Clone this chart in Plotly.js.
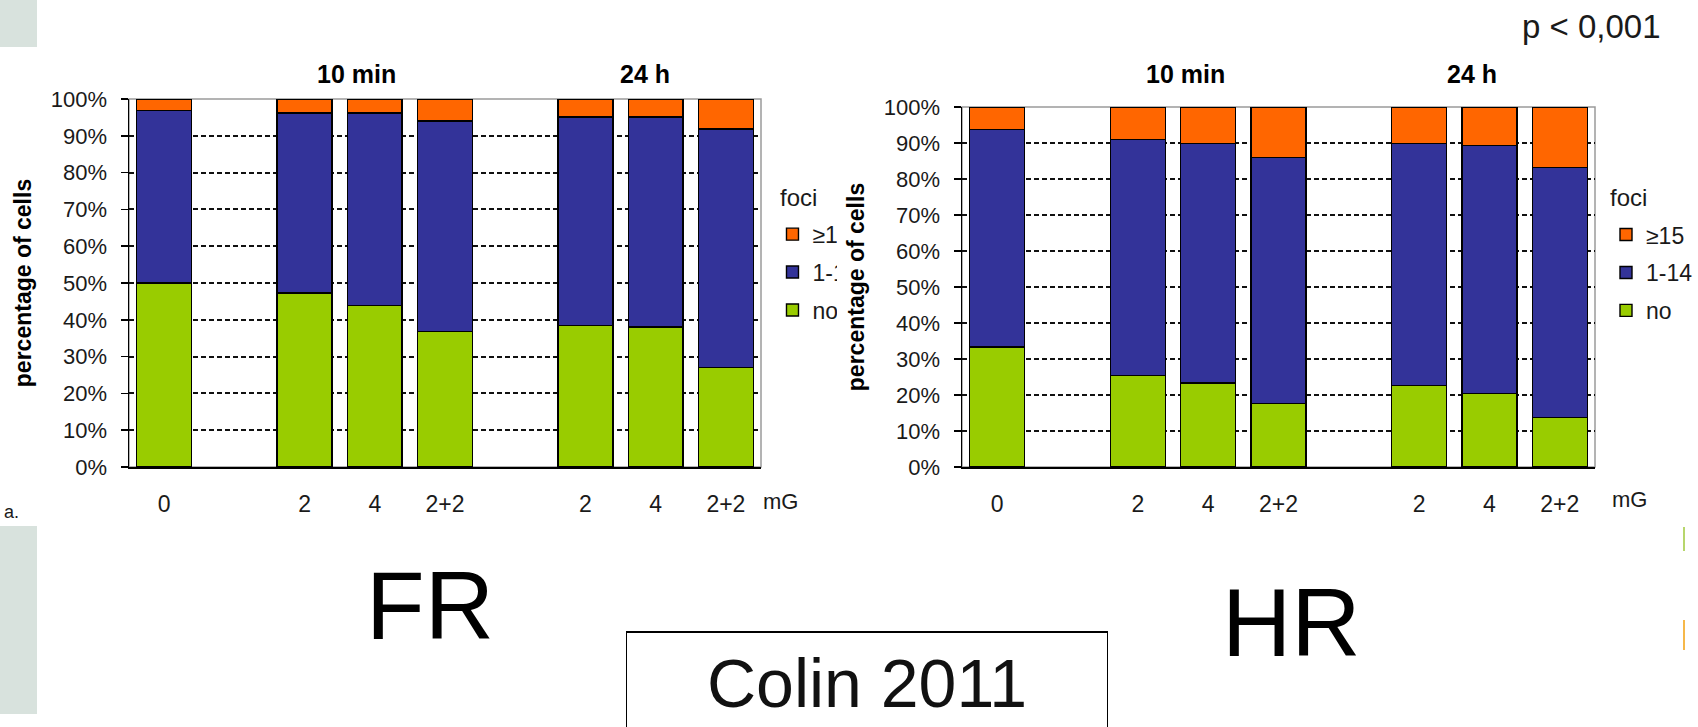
<!DOCTYPE html>
<html>
<head>
<meta charset="utf-8">
<script src="https://cdn.plot.ly/plotly-3.0.1.min.js"></script>
<style>
  html, body { margin: 0; padding: 0; background: #ffffff; }
  #wrap { position: relative; width: 1698px; height: 727px; overflow: hidden; background: #ffffff; }
  #leftclip { position: absolute; left: 0; top: 0; width: 837px; height: 727px; overflow: hidden; }
  #left { position: absolute; left: 0; top: 0; width: 900px; height: 727px; }
  #right { position: absolute; left: 835px; top: 0; width: 900px; height: 727px; }
  .deco { position: absolute; }
  #colin { position: absolute; left: 626px; top: 631px; width: 482px; height: 120px;
           border: 1.5px solid #000; border-top-width: 2.5px; background: #fff;
           font-family: "Liberation Sans", Arial, sans-serif; font-size: 68px; color: #111;
           text-align: center; line-height: 100px; box-sizing: border-box; }
</style>
</head>
<body>
<div id="wrap">
  <div class="deco" style="left:0;top:0;width:37px;height:47px;background:#d8e2dd;"></div>
  <div class="deco" style="left:0;top:526px;width:37px;height:188px;background:#d8e2dd;"></div>
  <div id="right"></div>
  <div id="leftclip"><div id="left"></div></div>
  <div class="deco" style="left:1683px;top:527px;width:2px;height:24px;background:#b7d66c;"></div>
  <div class="deco" style="left:1683px;top:620px;width:2px;height:30px;background:#f6b84a;"></div>
  <div id="colin">Colin 2011</div>
</div>
<script>
// ---------- data ----------
const slots = ['0', '', '2', '4', '2+2', '', '2', '4', '2+2'];
const seriesNames = ['no', '1-14', '≥15'];
const groupLabels = ['10 min', '24 h'];
const unitLabel = 'mG';
const yTitle = 'percentage of cells';
const legendTitle = 'foci';

// FR (left panel)
const frNo   = [50.0, null, 47.3, 43.9, 36.9, null, 38.5, 38.0, 27.1];
const frMid  = [46.8, null, 48.9, 52.3, 57.1, null, 56.6, 57.1, 64.7];
const frHigh = [ 3.2, null,  3.8,  3.8,  6.0, null,  4.9,  4.9,  8.2];

// HR (right panel)
const hrNo   = [33.3, null, 25.5, 23.3, 17.7, null, 22.6, 20.5, 13.8];
const hrMid  = [60.5, null, 65.4, 66.5, 68.3, null, 67.2, 68.8, 69.4];
const hrHigh = [ 6.2, null,  9.1, 10.2, 14.0, null, 10.2, 10.7, 16.8];

const yTicks = [0, 10, 20, 30, 40, 50, 60, 70, 80, 90, 100];

// ---------- styling ----------
const colors = ['#99cc00', '#333399', '#ff6600'];
const FONT = '"Liberation Sans", Arial, sans-serif';
const TXT = '#1a1a1a';

function buildFigure(divId, cfg, values, panelLabel) {
  const W = cfg.width, H = 727;
  const plotW = cfg.right - cfg.left;
  const plotH = cfg.bottom - cfg.top;
  const px = x => (x - cfg.left) / plotW;
  const py = y => (cfg.bottom - y) / plotH;
  const idx = slots.map((_, i) => i);

  const traces = values.map((vals, k) => ({
    type: 'bar',
    x: idx,
    y: vals,
    name: seriesNames[k],
    legendgroup: 'g' + k,
    legendrank: 1000 + (values.length - k),
    marker: { color: colors[k], line: { color: '#000', width: 1.4 } },
    hoverinfo: 'skip'
  }));

  const boundaries = slots.map((_, i) => i - 0.5).concat([slots.length - 0.5]);

  const layout = {
    width: W, height: H,
    margin: { l: cfg.left, r: W - cfg.right, t: cfg.top, b: H - cfg.bottom, pad: 0 },
    paper_bgcolor: 'rgba(0,0,0,0)',
    plot_bgcolor: '#ffffff',
    font: { family: FONT, color: TXT, size: 22 },
    barmode: 'stack',
    bargap: 0.22,
    showlegend: true,
    legend: {
      x: px(cfg.legendX), y: py(cfg.legendY), xanchor: 'left', yanchor: 'top',
      traceorder: 'grouped', font: { size: 23, color: TXT, family: FONT },
      bgcolor: 'rgba(0,0,0,0)', borderwidth: 0, tracegroupgap: 5, indentation: -8
    },
    xaxis: {
      range: [-0.5, slots.length - 0.5],
      tickmode: 'array', tickvals: idx, ticktext: slots,
      ticks: '', showgrid: false, zeroline: false,
      showline: true, linecolor: '#000', linewidth: 1.5,
      tickfont: { size: 23, color: TXT, family: FONT },
      ticklabelstandoff: 16, fixedrange: true
    },
    xaxis2: {
      overlaying: 'x', anchor: 'y', side: 'bottom',
      range: [-0.5, slots.length - 0.5],
      tickmode: 'array', tickvals: boundaries,
      ticks: 'outside', ticklen: 6, tickwidth: 1.5, tickcolor: '#000',
      showticklabels: false, showgrid: false, zeroline: false, showline: false
    },
    yaxis: {
      range: [0, 100],
      tickmode: 'array', tickvals: yTicks, ticktext: yTicks.map(v => v + '%'),
      ticks: 'outside', ticklen: 7, tickwidth: 1.5, tickcolor: '#000',
      showline: true, linecolor: '#000', linewidth: 1.5,
      showgrid: true, gridcolor: '#111', gridwidth: 2, griddash: '5px,3px',
      zeroline: false,
      tickfont: { size: 22, color: TXT, family: FONT },
      ticklabelstandoff: 9,
      title: { text: '<b>' + yTitle + '</b>', font: { size: 23, color: '#000', family: FONT }, standoff: 13 },
      fixedrange: true
    },
    shapes: [{
      type: 'rect', xref: 'paper', yref: 'paper', x0: 0, x1: 1, y0: 0, y1: 1,
      line: { color: '#9a9a9a', width: 1.5 }, layer: 'between'
    }],
    annotations: [
      { text: '<b>' + groupLabels[0] + '</b>', xref: 'paper', yref: 'paper', x: px(cfg.g1x), y: py(74),
        xanchor: 'center', yanchor: 'middle', showarrow: false, font: { size: 25, color: '#000' } },
      { text: '<b>' + groupLabels[1] + '</b>', xref: 'paper', yref: 'paper', x: px(cfg.g2x), y: py(74),
        xanchor: 'center', yanchor: 'middle', showarrow: false, font: { size: 25, color: '#000' } },
      { text: legendTitle, xref: 'paper', yref: 'paper', x: px(cfg.titleX), y: py(cfg.titleY),
        xanchor: 'left', yanchor: 'middle', showarrow: false, font: { size: 24, color: TXT } },
      { text: unitLabel, xref: 'paper', yref: 'paper', x: px(cfg.unitX), y: py(cfg.unitY),
        xanchor: 'left', yanchor: 'middle', showarrow: false, font: { size: 22, color: TXT } },
      { text: panelLabel.text, xref: 'paper', yref: 'paper', x: px(panelLabel.x), y: py(panelLabel.y),
        xanchor: 'center', yanchor: 'middle', showarrow: false, font: { size: 96, color: '#000' } }
    ].concat(cfg.extra.map(a => Object.assign({ xref: 'paper', yref: 'paper', showarrow: false },
        a, { x: px(a.x), y: py(a.y) })))
  };

  Plotly.newPlot(divId, traces, layout, { staticPlot: true, displayModeBar: false });
}

buildFigure('left', {
  width: 900, left: 129, right: 761.5, top: 99.3, bottom: 467.3,
  legendX: 781, legendY: 213, titleX: 779, titleY: 198,
  g1x: 357, g2x: 645, unitX: 762, unitY: 502,
  extra: [
    { text: 'a.', x: 2, y: 512, xanchor: 'left', yanchor: 'middle', font: { size: 18, color: TXT } }
  ]
}, [frNo, frMid, frHigh], { text: 'FR', x: 430, y: 606 });

buildFigure('right', {
  width: 900, left: 127, right: 760, top: 106.7, bottom: 467.3,
  legendX: 779, legendY: 213, titleX: 773, titleY: 197,
  g1x: 350.5, g2x: 637, unitX: 775, unitY: 500,
  extra: [
    { text: 'p &lt; 0,001', x: 756, y: 26, xanchor: 'center', yanchor: 'middle', font: { size: 33, color: TXT } }
  ]
}, [hrNo, hrMid, hrHigh], { text: 'HR', x: 456, y: 623 });
</script>
</body>
</html>
